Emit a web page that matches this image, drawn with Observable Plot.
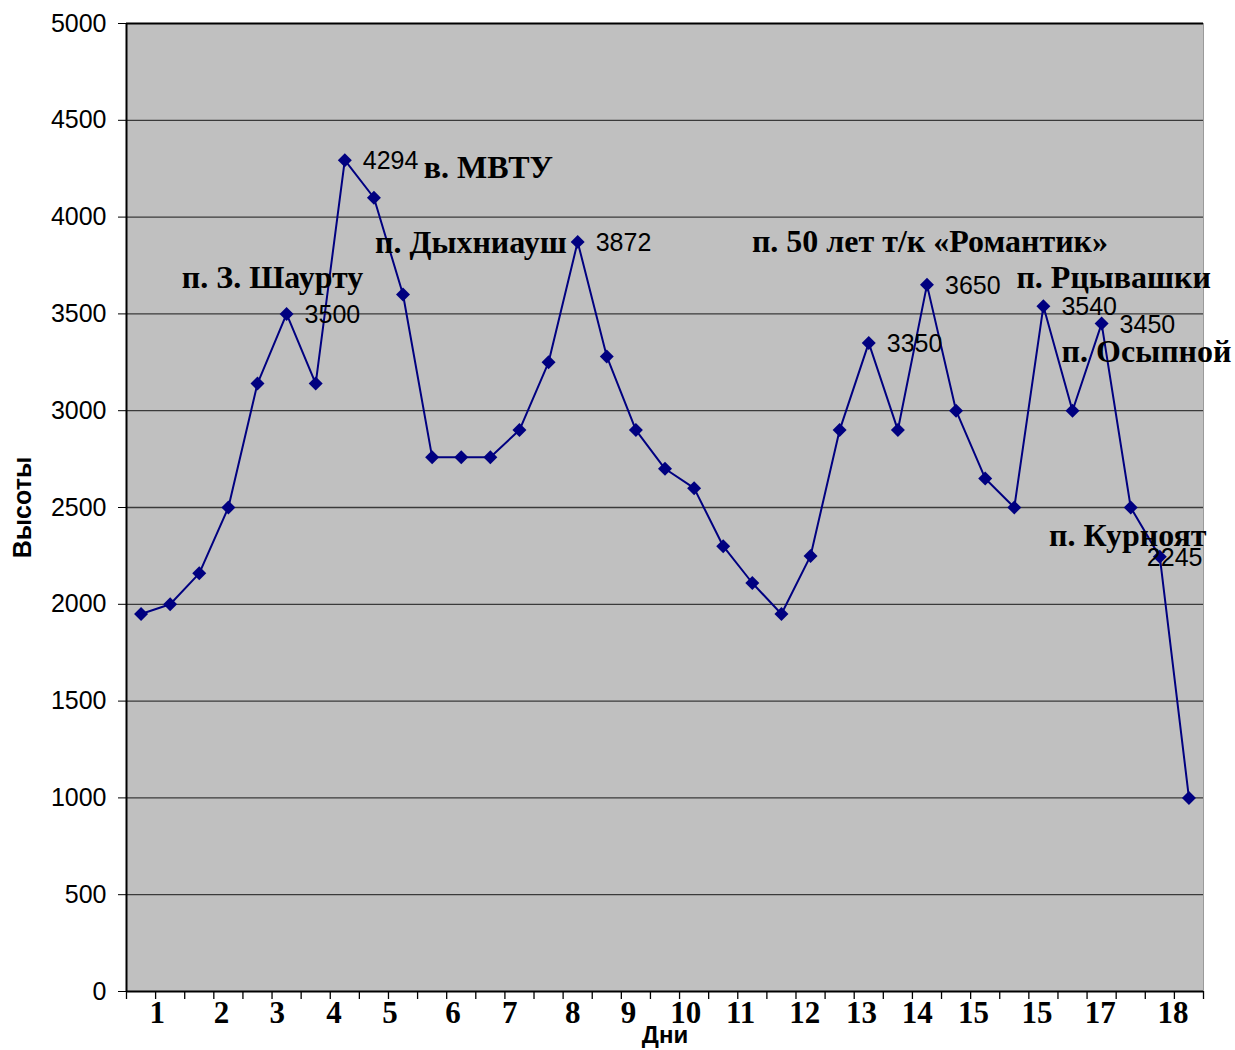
<!DOCTYPE html>
<html>
<head>
<meta charset="utf-8">
<script src="https://cdn.jsdelivr.net/npm/d3@7"></script>
<script src="https://cdn.jsdelivr.net/npm/@observablehq/plot@0.6"></script>
<style>
  html, body { margin: 0; padding: 0; background: #fff; }
  #chart svg { display: block; overflow: visible; }
</style>
</head>
<body>
<div id="chart"></div>
<script>
// ---- data ----
const heights = [1950, 2000, 2160, 2500, 3140, 3500, 3140, 4294, 4100, 3600,
                 2760, 2760, 2760, 2900, 3250, 3872, 3280, 2900, 2700, 2600,
                 2300, 2110, 1950, 2250, 2900, 3350, 2900, 3650, 3000, 2650,
                 2500, 3540, 3000, 3450, 2500, 2245, 1000];
const labeledPoints = [5, 7, 15, 25, 27, 31, 33, 35];
const dayLabels = ["1","2","3","4","5","6","7","8","9","10","11","12","13","14","15","15","17","18"];
const dayTickPos = [0.56, 2.76, 4.68, 6.63, 8.55, 10.72, 12.67, 14.83, 16.75, 18.71,
                    20.6, 22.8, 24.75, 26.67, 28.6, 30.78, 32.95, 35.45];
const placeNames = ["п. З. Шаурту", "в. МВТУ", "п. Дыхниауш", "п. 50 лет т/к «Романтик»",
                    "п. Рцывашки", "п. Осыпной", "п. Курноят"];
const placePoints = [5, 7, 15, 27, 31, 33, 35];
const yTicks = d3.range(0, 5001, 500);
const yTitle = "Высоты";
const xTitle = "Дни";

// ---- layout (styling only) ----
const placeAnchor = ["middle", "start", "end", "middle", "start", "start", "middle"];
const placeDx = [-14, 79, -11, 3, -27, -40, -32];
const placeDy = [-36, 8, 1, -43, -28, 28, -21];

const pts = heights.map((v, i) => ({i, v}));
const lab = labeledPoints.map(i => ({i, v: heights[i]}));
const places = placeNames.map((name, k) => ({name, i: placePoints[k], v: heights[placePoints[k]], k}));
const days = dayLabels.map((t, k) => ({t, x: dayTickPos[k]}));
const boundaries = d3.range(0, heights.length + 1).map(k => k - 0.5);

const navy = "#000080";
const sans = "Liberation Sans, Arial, sans-serif";
const serif = "Liberation Serif, Times New Roman, serif";

const chart = Plot.plot({
  width: 1235,
  height: 1050,
  marginLeft: 126,
  marginRight: 32,
  marginTop: 23,
  marginBottom: 59,
  style: {background: "#fff", fontFamily: sans, overflow: "visible"},
  x: {type: "linear", domain: [-0.5, heights.length - 0.5], axis: null},
  y: {domain: [0, 5000], axis: null},
  marks: [
    Plot.frame({fill: "#c0c0c0", stroke: null}),
    Plot.ruleY(yTicks.filter(t => t > 0 && t < 5000), {stroke: "#3a3a3a", strokeWidth: 1.3}),
    Plot.ruleY([5000], {stroke: "#000", strokeWidth: 2}),
    Plot.ruleX([heights.length - 0.5], {stroke: "#9a9a9a", strokeWidth: 1}),
    Plot.ruleY([0], {stroke: "#000", strokeWidth: 2}),
    Plot.ruleX([-0.5], {stroke: "#000", strokeWidth: 2}),
    Plot.axisY({ticks: yTicks, tickSize: 8, tickPadding: 12, fontSize: 25, fontFamily: sans,
                fill: "#000", stroke: "#000", label: null, tickFormat: d => String(d)}),
    Plot.axisX({ticks: boundaries, tickSize: 8, fill: "none", label: null, stroke: "#000", strokeWidth: 1.3}),
    Plot.text(days, {x: "x", y: 0, text: "t", dy: 22, lineAnchor: "middle", fontFamily: serif,
                     fontWeight: "bold", fontSize: 31, fill: "#000"}),
    Plot.line(pts, {x: "i", y: "v", stroke: navy, strokeWidth: 2}),
    Plot.dot(pts, {x: "i", y: "v", symbol: "diamond2", r: 6.3, fill: navy, stroke: null}),
    Plot.text(lab, {x: "i", y: "v", text: d => String(d.v), textAnchor: "start",
                    dx: 18, dy: 1, fontSize: 25, fontFamily: sans, fill: "#000",
                    filter: d => d.i !== 35}),
    Plot.text(lab, {x: "i", y: "v", text: d => String(d.v), textAnchor: "start",
                    dx: -13, dy: 1, fontSize: 25, fontFamily: sans, fill: "#000",
                    filter: d => d.i === 35}),
    ...places.map(p => Plot.text([p], {x: "i", y: "v", text: "name", textAnchor: placeAnchor[p.k],
                    dx: placeDx[p.k], dy: placeDy[p.k], fontSize: 32, fontWeight: "bold",
                    fontFamily: serif, fill: "#000"})),
    Plot.text([yTitle], {frameAnchor: "left", textAnchor: "middle", rotate: -90, dx: -104, fontSize: 25,
                         fontWeight: "bold", fontFamily: sans, fill: "#000"}),
    Plot.text([xTitle], {frameAnchor: "bottom", lineAnchor: "middle", dy: 44, fontSize: 24,
                         fontWeight: "bold", fontFamily: sans, fill: "#000"})
  ]
});
document.getElementById("chart").appendChild(chart);
</script>
</body>
</html>
